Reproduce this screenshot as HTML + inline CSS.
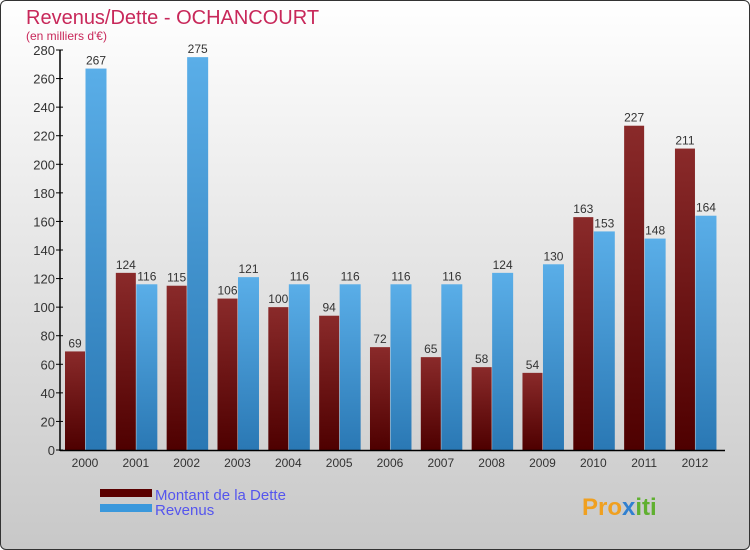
<!DOCTYPE html>
<html><head><meta charset="utf-8"><style>
body{margin:0;width:750px;height:550px;overflow:hidden;font-family:"Liberation Sans",sans-serif}
#c{position:absolute;left:0;top:0;width:748px;height:548px;border:1px solid #333;border-radius:6px;background:linear-gradient(#ffffff,#c8c8c8)}
</style></head><body>
<div id="c"></div>
<svg id="s" width="750" height="550" style="position:absolute;left:0;top:0">
<defs>
<linearGradient id="gd" x1="0" y1="0" x2="0" y2="1"><stop offset="0" stop-color="#8a2a2a"/><stop offset="1" stop-color="#4e0000"/></linearGradient>
<linearGradient id="gr" x1="0" y1="0" x2="0" y2="1"><stop offset="0" stop-color="#5aaee8"/><stop offset="1" stop-color="#2a78b4"/></linearGradient>
</defs>
<text x="26" y="24" font-size="20" fill="#c8285a">Revenus/Dette - OCHANCOURT</text>
<text x="26" y="40" font-size="12" fill="#c8285a">(en milliers d'€)</text>
<g id="g"></g>
<rect x="100" y="489" width="52" height="8" fill="#5a0000"/>
<rect x="100" y="504" width="52" height="8" fill="#3a98dc"/>
<text x="155" y="500" font-size="15" fill="#5555ee">Montant de la Dette</text>
<text x="155" y="515" font-size="15" fill="#5555ee">Revenus</text>
<text x="582" y="515" font-size="24" font-weight="bold" fill="#f0a020">Pro<tspan fill="#3080d0">x</tspan><tspan fill="#60b030">iti</tspan></text>
</svg>
<script>
const years=["2000","2001","2002","2003","2004","2005","2006","2007","2008","2009","2010","2011","2012"];
const dette=[69,124,115,106,100,94,72,65,58,54,163,227,211];
const revenus=[267,116,275,121,116,116,116,116,124,130,153,148,164];
const ticks=[0,20,40,60,80,100,120,140,160,180,200,220,240,260,280];
const NS="http://www.w3.org/2000/svg";
const g=document.getElementById('g');
const y=v=>450-v*400/280;
const x=i=>65+i*50.83;
function mk(t,a,txt){const e=document.createElementNS(NS,t);for(const k in a)e.setAttribute(k,a[k]);if(txt!==undefined)e.textContent=txt;g.appendChild(e);return e;}
ticks.forEach(t=>{
 const l=mk('line',{x1:56,x2:63,y1:y(t),y2:y(t),stroke:'#000'});
 
 
 const tx=mk('text',{x:55,y:y(t)+5,'font-size':13,fill:'#333','text-anchor':'end'},t);
 
 
});
years.forEach((yr,i)=>{
 const b1=mk('rect',{x:x(i),y:y(dette[i]),width:20,height:450-y(dette[i]),fill:'url(#gd)'});
 
 
 const b2=mk('rect',{x:x(i)+20.5,y:y(revenus[i]),width:21,height:450-y(revenus[i]),fill:'url(#gr)'});
 
 
 const l1=mk('text',{x:x(i)+10,y:y(dette[i])-4,'font-size':12,fill:'#333','text-anchor':'middle'},dette[i]);
 
 
 const l2=mk('text',{x:x(i)+31,y:y(revenus[i])-4,'font-size':12,fill:'#333','text-anchor':'middle'},revenus[i]);
 
 
 const xl=mk('text',{x:x(i)+20,y:467,'font-size':12,fill:'#333','text-anchor':'middle'},yr);
 
 
});
const ax=mk('line',{x1:60,x2:60,y1:50,y2:451,stroke:'#000','stroke-width':1.5});


const bx=mk('line',{x1:60,x2:725,y1:450.5,y2:450.5,stroke:'#000','stroke-width':1.5});


</script>
</body></html>
